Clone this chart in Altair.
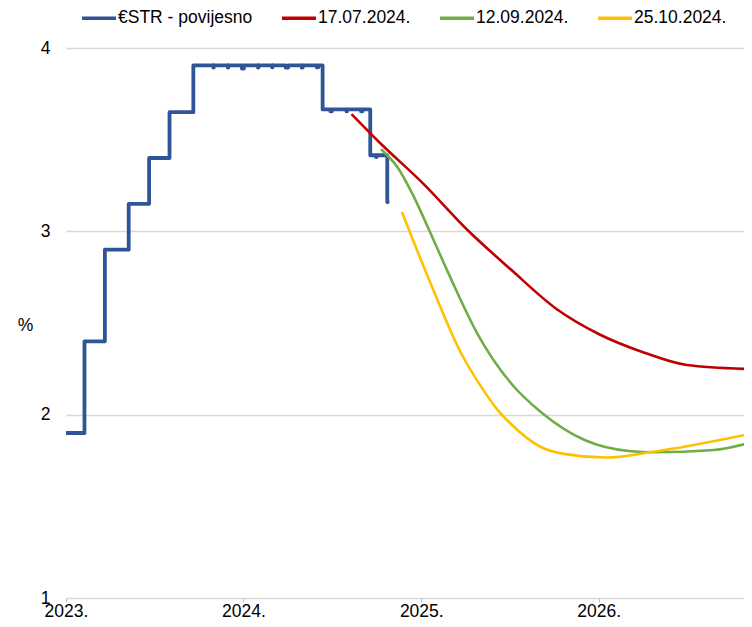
import altair as alt
import pandas as pd

# Historical €STR (change points, incl. small month-end dips)
estr_dates = ["2023-01-01", "2023-02-08", "2023-03-22", "2023-05-10", "2023-06-21",
              "2023-08-02", "2023-09-20",
              "2023-10-31", "2023-11-01", "2023-11-30", "2023-12-01", "2023-12-29", "2024-01-02",
              "2024-01-31", "2024-02-01", "2024-02-29", "2024-03-01", "2024-03-28", "2024-04-02",
              "2024-04-30", "2024-05-02", "2024-05-31", "2024-06-03",
              "2024-06-12", "2024-06-28", "2024-07-01", "2024-07-31", "2024-08-01",
              "2024-08-30", "2024-09-02",
              "2024-09-18", "2024-09-30", "2024-10-01",
              "2024-10-23", "2024-10-24"]
estr_vals = [1.90, 2.40, 2.90, 3.15, 3.40,
             3.65, 3.905,
             3.893, 3.905, 3.893, 3.905, 3.888, 3.905,
             3.893, 3.905, 3.895, 3.905, 3.893, 3.905,
             3.893, 3.905, 3.895, 3.905,
             3.665, 3.655, 3.665, 3.655, 3.665,
             3.655, 3.665,
             3.415, 3.405, 3.415,
             3.16, 3.16]

# Forward curves
red_dates = ["2024-08-12", "2024-10-05", "2025-01-05", "2025-04-05", "2025-07-05",
             "2025-10-07", "2026-01-01", "2026-04-05", "2026-07-01", "2026-10-27"]
red_vals = [3.635, 3.49, 3.26, 3.01, 2.79, 2.575, 2.44, 2.338, 2.271, 2.25]

green_dates = ["2024-10-12", "2024-11-12", "2024-12-13", "2025-01-20", "2025-03-01",
               "2025-04-26", "2025-07-05", "2025-09-07", "2025-12-03", "2026-03-04",
               "2026-04-24", "2026-08-26", "2026-10-27"]
green_vals = [3.444, 3.353, 3.208, 2.99, 2.753, 2.444, 2.17, 2.008, 1.862, 1.802,
              1.795, 1.807, 1.838]

yellow_dates = ["2024-11-23", "2025-01-20", "2025-03-24", "2025-05-04", "2025-06-07",
                "2025-07-03", "2025-09-03", "2025-10-21", "2026-01-15", "2026-04-24",
                "2026-10-27"]
yellow_vals = [3.10, 2.717, 2.335, 2.153, 2.026, 1.953, 1.825, 1.786, 1.766, 1.798, 1.888]

series_names = ["€STR - povijesno", "17.07.2024.", "12.09.2024.", "25.10.2024."]
series_colors = ["#2f5597", "#c00000", "#70ad47", "#ffc000"]

hist = pd.DataFrame({"date": estr_dates, "val": estr_vals, "s": series_names[0]})
fwd = pd.concat([
    pd.DataFrame({"date": red_dates, "val": red_vals, "s": series_names[1]}),
    pd.DataFrame({"date": green_dates, "val": green_vals, "s": series_names[2]}),
    pd.DataFrame({"date": yellow_dates, "val": yellow_vals, "s": series_names[3]}),
])

FONT = "Liberation Sans"
FS = 17.5

x_enc = alt.X("date:T",
              scale=alt.Scale(domain=[alt.DateTime(year=2023, month=1, date=1),
                                      alt.DateTime(year=2026, month=10, date=27)]),
              axis=alt.Axis(title=None, format="%Y.", tickCount={"interval": "year", "step": 1},
                            grid=False, domain=False, ticks=True, tickSize=4,
                            tickColor="#bfbfbf", labelFontSize=FS, labelColor="#000000",
                            labelFont=FONT, labelPadding=0, labelFlush=False))
y_enc = alt.Y("val:Q",
              scale=alt.Scale(domain=[1, 4], nice=False),
              axis=alt.Axis(title="%", titleAngle=0, titleX=-41, titleY=277,
                            titleAlign="center", titleBaseline="middle",
                            titleFontSize=FS, titleFontWeight="normal", titleFont=FONT,
                            titleColor="#000000",
                            values=[1, 2, 3, 4], grid=True, gridColor="#d9d9d9",
                            gridWidth=1.3, domain=False, ticks=False, labelPadding=16,
                            labelFontSize=FS, labelColor="#000000", labelFont=FONT))
color_enc = alt.Color("s:N",
                      scale=alt.Scale(domain=series_names, range=series_colors),
                      legend=alt.Legend(title=None, orient="none", legendX=14, legendY=-49,
                                        direction="horizontal", symbolType="stroke",
                                        symbolSize=1156, symbolStrokeWidth=3.5,
                                        labelFontSize=FS, labelFont=FONT,
                                        labelColor="#000000", labelOffset=0,
                                        columnPadding=22, labelLimit=300, padding=0))

hist_line = alt.Chart(hist).mark_line(interpolate="step-after", strokeWidth=3.8,
                                      strokeCap="round", strokeJoin="round", clip=True).encode(
    x=x_enc, y=y_enc, color=color_enc)
fwd_line = alt.Chart(fwd).mark_line(interpolate="monotone", strokeWidth=2.6,
                                    strokeCap="round", clip=True).encode(
    x=x_enc, y=y_enc, color=color_enc)

chart = alt.layer(hist_line, fwd_line).properties(
    width=678, height=550,
    autosize=alt.AutoSizeParams(type="none"),
    padding={"left": 58, "top": 40, "right": 0, "bottom": 21},
    background="white",
).configure_view(stroke=None)

chart.save("out.html", embed_options={"renderer": "svg", "actions": False})
